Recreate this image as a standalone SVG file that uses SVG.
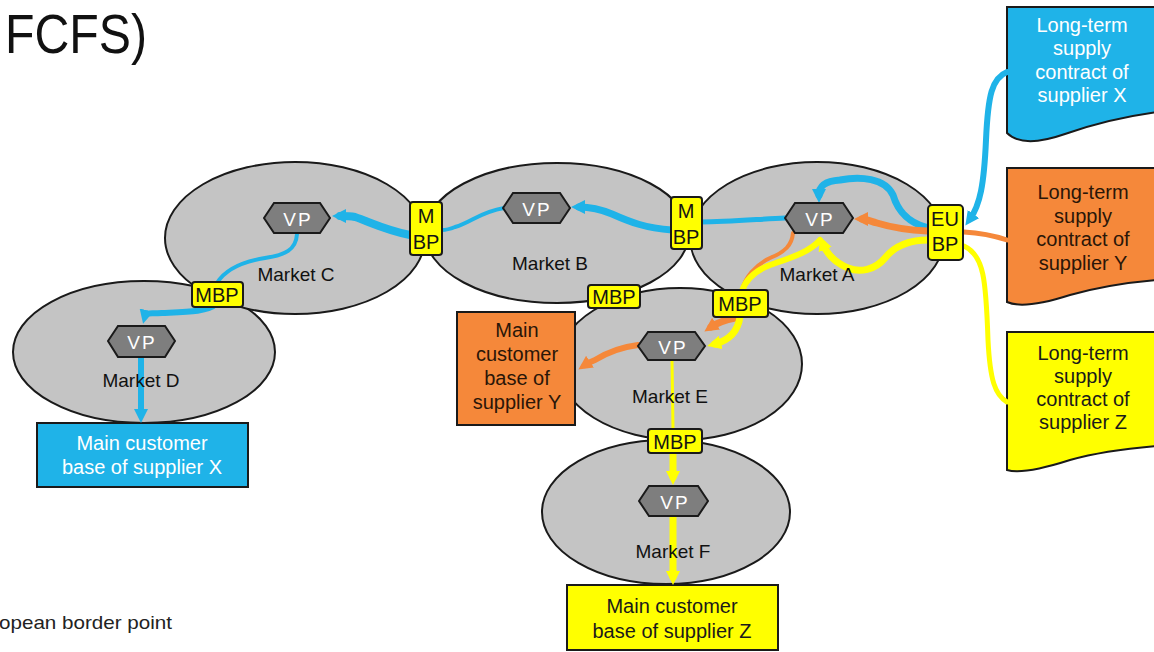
<svg xmlns="http://www.w3.org/2000/svg" width="1154" height="652" viewBox="0 0 1154 652">
<style>
.mk{fill:#c4c4c4;stroke:#1a1a1a;stroke-width:2}
.ml{font-family:"Liberation Sans",Arial,sans-serif;font-size:19px;fill:#111111;text-anchor:middle}
.vp{fill:#7e7e7e;stroke:#1a1a1a;stroke-width:2}
.vt{font-family:"Liberation Sans",Arial,sans-serif;font-size:19px;fill:#ffffff;text-anchor:middle;letter-spacing:2px}
.bp{fill:#ffff00;stroke:#1a1a1a;stroke-width:2}
.bt{font-family:"Liberation Sans",Arial,sans-serif;font-size:20px;fill:#141414;text-anchor:middle}
.c{fill:none;stroke-linecap:round;stroke-linejoin:round}
.b{stroke:#1fb3e8}
.o{stroke:#f5883a}
.y{stroke:#ffff00}
.dt{font-family:"Liberation Sans",Arial,sans-serif;font-size:20px;text-anchor:middle}
</style>
<defs>
<marker id="ab" viewBox="0 0 14 14" refX="6" refY="7" markerWidth="14" markerHeight="14" markerUnits="userSpaceOnUse" orient="auto"><path d="M0,0 L14,7 L0,14 z" fill="#1fb3e8"/></marker>
<marker id="ao" viewBox="0 0 14 14" refX="6" refY="7" markerWidth="14" markerHeight="14" markerUnits="userSpaceOnUse" orient="auto"><path d="M0,0 L14,7 L0,14 z" fill="#f5883a"/></marker>
<marker id="ay" viewBox="0 0 14 14" refX="6" refY="7" markerWidth="14" markerHeight="14" markerUnits="userSpaceOnUse" orient="auto"><path d="M0,0 L14,7 L0,14 z" fill="#ffff00"/></marker>
</defs>
<rect width="1154" height="652" fill="#ffffff"/>
<text x="5" y="53" font-family="Liberation Sans,Arial,sans-serif" font-size="56" fill="#111" textLength="142" lengthAdjust="spacingAndGlyphs">FCFS)</text>
<text x="-1" y="629" font-family="Liberation Sans,Arial,sans-serif" font-size="19" fill="#222" textLength="173" lengthAdjust="spacingAndGlyphs">opean border point</text>

<g id="market-d"><ellipse class="mk" cx="144" cy="352" rx="131" ry="71"/></g>
<g id="market-c"><ellipse class="mk" cx="295" cy="238" rx="130" ry="76"/></g>
<g id="market-b"><ellipse class="mk" cx="557" cy="233" rx="132" ry="70"/></g>
<g id="market-a"><ellipse class="mk" cx="817" cy="238" rx="127" ry="76"/></g>
<g id="market-e"><ellipse class="mk" cx="680" cy="364" rx="122" ry="76"/></g>
<g id="market-f"><ellipse class="mk" cx="666" cy="512" rx="124" ry="72"/></g>

<g id="box-y"><rect x="457" y="312" width="118" height="113" fill="#f5883a" stroke="#1a1a1a" stroke-width="2"/>
<text class="dt" x="517" y="337" fill="#2a1608">Main</text><text class="dt" x="517" y="361" fill="#2a1608">customer</text><text class="dt" x="517" y="385" fill="#2a1608">base of</text><text class="dt" x="517" y="409" fill="#2a1608">supplier Y</text></g>
<g id="box-x"><rect x="37" y="423" width="211" height="64" fill="#1fb3e8" stroke="#1a1a1a" stroke-width="2"/>
<text class="dt" x="142" y="450" fill="#ffffff">Main customer</text><text class="dt" x="142" y="474" fill="#ffffff">base of supplier X</text></g>
<g id="box-z"><rect x="567" y="585" width="211" height="65" fill="#ffff00" stroke="#1a1a1a" stroke-width="2"/>
<text class="dt" x="672" y="613" fill="#1a1a1a">Main customer</text><text class="dt" x="672" y="638" fill="#1a1a1a">base of supplier Z</text></g>

<g id="contract-x"><path d="M1157,7 H1007 V133 C1020,146 1045,141 1065,134 C1090,125 1120,117 1157,112" fill="#1fb3e8" stroke="#1a1a1a" stroke-width="2"/>
<text class="dt" x="1082" y="32" fill="#ffffff">Long-term</text><text class="dt" x="1082" y="55" fill="#ffffff">supply</text><text class="dt" x="1082" y="79" fill="#ffffff">contract of</text><text class="dt" x="1082" y="102" fill="#ffffff">supplier X</text></g>
<g id="contract-y"><path d="M1157,168 H1007 V302 C1020,308 1045,303 1070,295 C1095,288 1120,283 1157,280" fill="#f5883a" stroke="#1a1a1a" stroke-width="2"/>
<text class="dt" x="1083" y="199" fill="#2a1608">Long-term</text><text class="dt" x="1083" y="223" fill="#2a1608">supply</text><text class="dt" x="1083" y="246" fill="#2a1608">contract of</text><text class="dt" x="1083" y="270" fill="#2a1608">supplier Y</text></g>
<g id="contract-z"><path d="M1157,332 H1007 V470 C1020,474 1045,468 1070,460 C1095,453 1120,449 1157,446" fill="#ffff00" stroke="#1a1a1a" stroke-width="2"/>
<text class="dt" x="1083" y="360" fill="#1a1a1a">Long-term</text><text class="dt" x="1083" y="383" fill="#1a1a1a">supply</text><text class="dt" x="1083" y="406" fill="#1a1a1a">contract of</text><text class="dt" x="1083" y="429" fill="#1a1a1a">supplier Z</text></g>

<g id="connectors">
<path class="c b" stroke-width="6" d="M1007,72 C992,78 988,95 986,140 C984,185 980,205 970,219" marker-end="url(#ab)"/>
<path class="c b" stroke-width="7" d="M928,228 C905,222 897,208 893,195 C885,178 860,176 840,180 C825,181 819,186 819,195" marker-end="url(#ab)"/>
<path class="c b" stroke-width="5" d="M785,218 C760,219 730,222 700,222"/>
<path class="c b" stroke-width="7" d="M672,230 C645,228 630,222 612,214 C600,209 590,207 579,207" marker-end="url(#ab)"/>
<path class="c b" stroke-width="4" d="M504,208 C480,212 472,222 455,227 C450,229 446,230 442,230"/>
<path class="c b" stroke-width="8" d="M410,235 C385,230 370,222 355,217 C350,216 345,216 340,216" marker-end="url(#ab)"/>
<path class="c b" stroke-width="4" d="M297,234 C296,250 285,255 265,258 C240,262 225,270 217,283"/>
<path class="c b" stroke-width="6" d="M216,304 C208,312 185,312 162,313 C150,314 146,312 145,316" marker-end="url(#ab)"/>
<path class="c b" stroke-width="6" d="M141,358 L141,415" marker-end="url(#ab)"/>

<path class="c o" stroke-width="5" d="M1007,240 C995,236 982,233 964,232"/>
<path class="c o" stroke-width="7" d="M928,231 C905,230 890,227 877,223 C870,221 866,219 862,219" marker-end="url(#ao)"/>
<path class="c o" stroke-width="4" d="M793,233 C792,245 785,252 770,258 C755,265 745,278 742,290"/>
<path class="c o" stroke-width="7" d="M735,318 C725,320 717,323 711,327" marker-end="url(#ao)"/>
<path class="c o" stroke-width="6" d="M638,345 C622,347 608,352 595,360 C590,362 588,363 585,365" marker-end="url(#ao)"/>

<path class="c y" stroke-width="5" d="M1007,402 C995,395 990,380 988,340 C986,280 984,255 964,246"/>
<path class="c y" stroke-width="7" d="M928,240 C905,240 893,248 885,258 C875,270 860,273 848,268 C836,263 827,254 823,244" marker-end="url(#ay)"/>
<path class="c y" stroke-width="6" d="M820,240 C810,252 790,258 770,265 C752,272 745,282 742,291"/>
<path class="c y" stroke-width="7" d="M740,317 C738,330 730,340 715,344" marker-end="url(#ay)"/>
<path class="c y" stroke-width="3" d="M672,360 L673,429"/>
<path class="c y" stroke-width="7" d="M673,453 L673,477" marker-end="url(#ay)"/>
<path class="c y" stroke-width="7" d="M673,517 L673,577" marker-end="url(#ay)"/>
</g>

<g id="market-labels">
<text class="ml" x="141" y="387">Market D</text>
<text class="ml" x="296" y="281">Market C</text>
<text class="ml" x="550" y="270">Market B</text>
<text class="ml" x="817" y="281">Market A</text>
<text class="ml" x="670" y="403">Market E</text>
<text class="ml" x="673" y="558">Market F</text>
</g>

<g id="vp-c"><path class="vp" d="M264,218 L274,203 L320,203 L330,218 L320,233 L274,233 Z"/><text class="vt" x="298" y="226">VP</text></g>
<g id="vp-b"><path class="vp" d="M503,208 L513,193 L560,193 L570,208 L560,223 L513,223 Z"/><text class="vt" x="537" y="216">VP</text></g>
<g id="vp-a"><path class="vp" d="M785,218 L795,203 L843,203 L853,218 L843,233 L795,233 Z"/><text class="vt" x="820" y="226">VP</text></g>
<g id="vp-d"><path class="vp" d="M108,341 L118,326 L165,326 L175,341 L165,357 L118,357 Z"/><text class="vt" x="142" y="349">VP</text></g>
<g id="vp-e"><path class="vp" d="M638,346 L648,332 L695,332 L705,346 L695,360 L648,360 Z"/><text class="vt" x="673" y="354">VP</text></g>
<g id="vp-f"><path class="vp" d="M639,501 L649,486 L698,486 L708,501 L698,516 L649,516 Z"/><text class="vt" x="675" y="509">VP</text></g>

<g id="mbp-cb"><rect class="bp" x="410" y="202" width="32" height="53" rx="3"/><text class="bt" x="426" y="223">M</text><text class="bt" x="426" y="249">BP</text></g>
<g id="mbp-ba"><rect class="bp" x="671" y="197" width="31" height="52" rx="3"/><text class="bt" x="686" y="218">M</text><text class="bt" x="686" y="244">BP</text></g>
<g id="eu-bp"><rect class="bp" x="928" y="205" width="35" height="55" rx="4"/><text class="bt" x="945" y="226">EU</text><text class="bt" x="945" y="251">BP</text></g>
<g id="mbp-cd"><rect class="bp" x="192" y="282" width="51" height="25" rx="3"/><text class="bt" x="217" y="302">MBP</text></g>
<g id="mbp-be"><rect class="bp" x="588" y="285" width="52" height="23" rx="3"/><text class="bt" x="614" y="304">MBP</text></g>
<g id="mbp-ae"><rect class="bp" x="713" y="290" width="55" height="27" rx="3"/><text class="bt" x="740" y="311">MBP</text></g>
<g id="mbp-ef"><rect class="bp" x="648" y="429" width="54" height="24" rx="3"/><text class="bt" x="675" y="449">MBP</text></g>
</svg>
